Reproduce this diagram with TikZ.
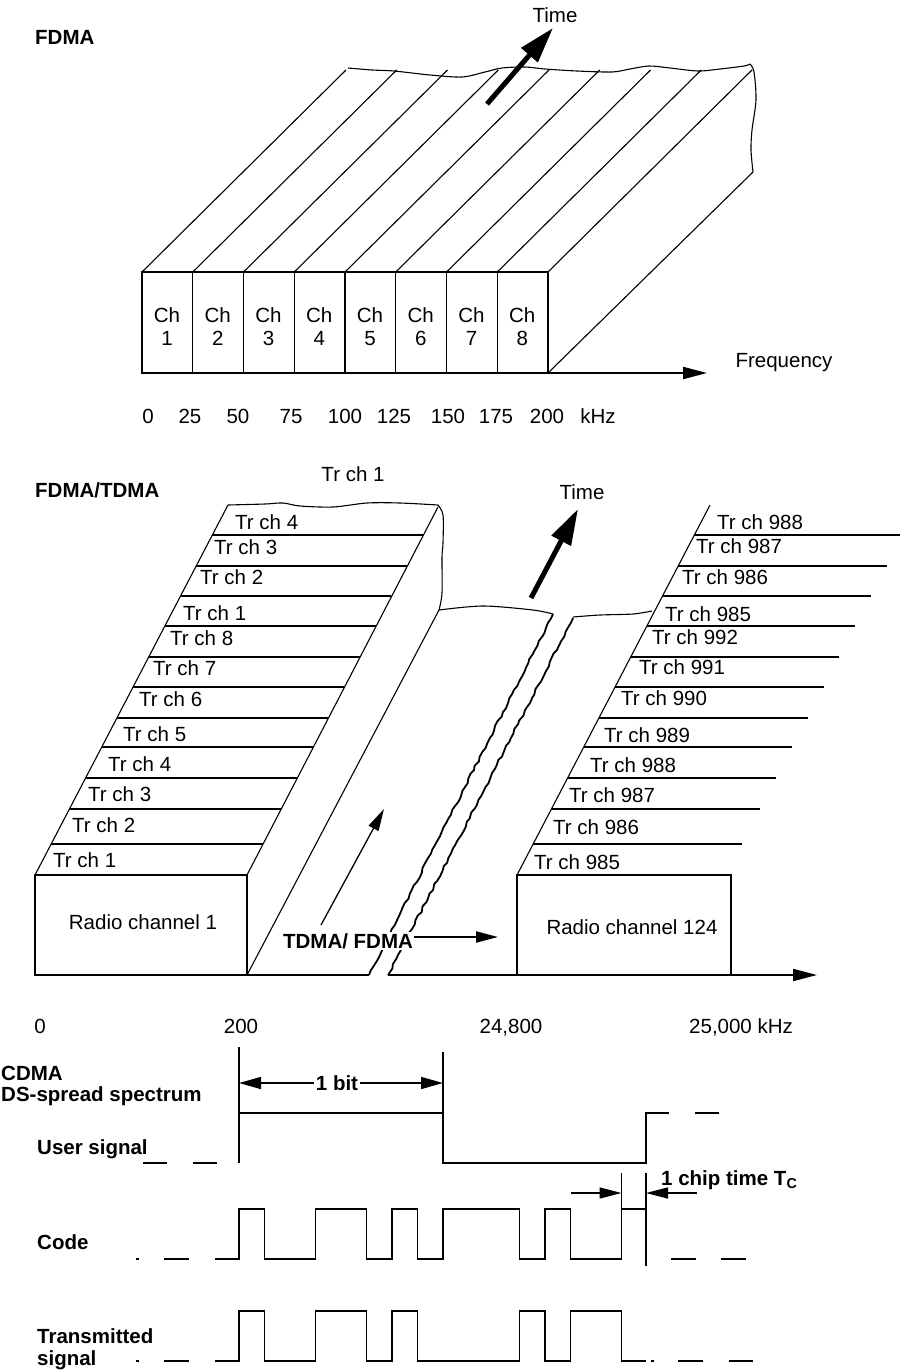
\documentclass[tikz,border=0pt]{standalone}
\usepackage{fontspec}
\setmainfont{Liberation Sans}
\usetikzlibrary{arrows.meta,decorations.pathmorphing,calc}
\begin{document}
\begin{tikzpicture}[x=1pt,y=-1pt,
  lbl/.style={inner sep=0pt,font=\fontsize{20.5}{23}\selectfont},
  blbl/.style={inner sep=0pt,font=\fontsize{20.5}{23}\selectfont\bfseries},
  ln/.style={line width=1.1pt},
  bx/.style={line width=2.2pt},
  sg/.style={line width=1.5pt},
  bigarrow/.style={line width=5pt,-{Triangle[length=36pt,width=21pt]}},
  axarrow/.style={line width=2pt,-{Triangle[length=24pt,width=12pt]}},
  smarrow/.style={line width=1.3pt,-{Triangle[length=22pt,width=11pt]}},
  dimarrow/.style={line width=1.5pt,{Triangle[length=22pt,width=12pt]}-{Triangle[length=22pt,width=12pt]}},
  jag/.style={line width=1.8pt,decorate,decoration={random steps,segment length=5pt,amplitude=1pt}}
]
\pgfmathsetseed{7}
\useasboundingbox (0,0) rectangle (900,1371);
\fill[white] (0,0) rectangle (900,1371);

% ================= FDMA =================
\node[blbl,anchor=west] (fdma) at (35,37) {FDMA};
\foreach \k in {0,...,8}
  \draw[ln] ({142+50.75*\k},272) -- ({346+50.75*\k},70);
\draw[ln] plot[smooth] coordinates {(348,68) (372,70) (394,71) (430,75) (462,77) (485,72) (502,68) (525,67) (545,69) (577,71) (612,72) (630,69) (649,66) (670,68) (698,71) (720,69) (744,66) (750,64)};
\draw[ln] plot[smooth] coordinates {(750,64) (754,72) (756,100) (752,130) (751,150) (753,172)};
\draw[ln] (548,373) -- (753,172);
\foreach \k in {1,...,7}
  \draw[ln] ({142+50.75*\k},272) -- ({142+50.75*\k},373);
\draw[bx] (142,272) rectangle (548,373);
\foreach \k [evaluate=\k as \n using int(\k+1)] in {0,...,7}
  \node[lbl,align=center] (ch\n) at ({167+50.75*\k},327) {Ch\\\n};
\coordinate (fstart) at (548,373);
\coordinate (fend) at (707,373);
\draw[axarrow] (fstart) -- (fend);
\node[lbl,anchor=base] (freq) at (784,367) {Frequency};
\coordinate (t1a) at (487,104);
\coordinate (t1b) at (553,28);
\draw[bigarrow] (t1a) -- (t1b);
\node[lbl,anchor=base] (time1) at (555,22) {Time};
\foreach \x/\t [count=\i] in {148/0,190/25,238/50,291/75,345/100,394/125,448/150,496/175,547/200,598/kHz}
  \node[lbl,anchor=base] (fx\i) at (\x,423) {\t};

% ================= FDMA/TDMA =================
\node[blbl,anchor=west] (ft) at (35,490) {FDMA/TDMA};
\node[lbl] (trtop) at (353,474) {Tr ch 1};
% left stack
\draw[ln] (35,875) -- (228,505);
\draw[ln] (247,875) -- (438,507);
\draw[ln] plot[smooth] coordinates {(228,505) (265,504) (283,503) (300,506) (333,507) (367,503) (400,503) (438,505)};
\draw[ln] plot[smooth] coordinates {(438,505) (443,515) (443,543) (442,557) (442,593) (439,610)};
\foreach \yy in {535,566,596,626,657,687,718,747,778,809,844}
  \draw[ln] ({35+(875-\yy)*0.5216},\yy) -- ({247+(875-\yy)*0.5162},\yy);
\foreach \x/\y/\t [count=\i] in {235/522/4,214/547/3,200/577/2,183/613/1,170/638/8,153/668/7,139/699/6,123/734/5,108/764/4,88/794/3,72/825/2,53/860/1}
  \node[lbl,anchor=west] (ls\i) at (\x,\y) {Tr ch \t};
% floor
\draw[ln] (247,975) -- (439,610);
\draw[ln] plot[smooth] coordinates {(439,610) (483,606) (533,610) (553,614)};
\draw[ln] plot[smooth] coordinates {(573,617) (600,615) (633,614) (652,611)};
\draw[jag] (553,614) -- (369,975);
\draw[jag] (573,618) -- (388,975);
\draw[bx] (247,975) -- (369,975);
\draw[bx] (388,975) -- (517,975);
% boxes
\draw[bx] (35,875) rectangle (247,975);
\node[lbl] (rc1) at (143,922) {Radio channel 1};
\draw[bx] (517,875) rectangle (731,975);
\node[lbl] (rc124) at (632,927) {Radio channel 124};
\coordinate (f2a) at (731,975);
\coordinate (f2b) at (817,975);
\draw[axarrow] (f2a) -- (f2b);
% right stack
\draw[ln] (517,875) -- (710,505);
\foreach \yy in {535,566,596,626,657,687,718,747,778,809,844}
  \draw[ln] ({517+(875-\yy)*0.5216},\yy) -- ({min(900,742+(844-\yy)*0.52)},\yy);
\foreach \x/\y/\t [count=\i] in {717/522/988,696/546/987,682/577/986,665/614/985,652/637/992,639/667/991,621/698/990,604/735/989,590/765/988,569/795/987,553/827/986,534/862/985}
  \node[lbl,anchor=west] (rs\i) at (\x,\y) {Tr ch \t};
% arrows
\coordinate (ma) at (321,925);
\coordinate (mb) at (384,809);
\draw[smarrow] (ma) -- (mb);
\node[blbl,fill=white,inner sep=1pt] (tf) at (348,941) {TDMA/ FDMA};
\coordinate (tfend) at (498,937);
\draw[smarrow,line width=2pt] (tf.east |- tfend) -- (tfend);
\coordinate (t2a) at (531,598);
\coordinate (t2b) at (578,509);
\draw[bigarrow] (t2a) -- (t2b);
\node[lbl,anchor=base] (time2) at (582,499) {Time};
\foreach \x/\t [count=\i] in {40/0,241/200,511/{24,800}}
  \node[lbl,anchor=base] (ax\i) at (\x,1033) {\t};
\node[lbl,anchor=base west] (ax4) at (689,1033) {25,000 kHz};

% ================= CDMA =================
\node[blbl,anchor=west] (cdma) at (1,1073) {CDMA};
\node[blbl,anchor=west] (dss) at (1,1096) {DS-spread spectrum};
\node[blbl,anchor=west] (us) at (37,1149) {User signal};
\node[blbl,anchor=west] (cd) at (37,1242) {Code};
\node[blbl,anchor=west] (tx1) at (37,1336) {Transmitted};
\node[blbl,anchor=west] (tx2) at (37,1360) {signal};
% markers
\draw[sg] (239,1047) -- (239,1163);
\draw[sg] (443,1052) -- (443,1163);
\coordinate (b1) at (239,1083);
\coordinate (b2) at (443,1083);
\draw[dimarrow] (b1) -- (b2);
\node[blbl,fill=white,inner sep=1.5pt] (bit) at (337,1083) {1 bit};
% user signal
\draw[sg] (143,1163) -- (167,1163);
\draw[sg] (193,1163) -- (217,1163);
\draw[sg] (239,1113) -- (443,1113) -- (443,1163) -- (646,1163) -- (646,1113) -- (669,1113);
\draw[sg] (695,1113) -- (719,1113);
% code
\draw[sg] (136,1259) -- (138.5,1259);
\draw[sg] (164,1259) -- (189,1259);
\draw[sg] (215,1259) -- (239,1259) -- (239,1209) -- (264.5,1209) -- (264.5,1259)
  -- (315.5,1259) -- (315.5,1209) -- (366.5,1209) -- (366.5,1259) -- (392,1259)
  -- (392,1209) -- (417.5,1209) -- (417.5,1259) -- (443,1259) -- (443,1209)
  -- (519.5,1209) -- (519.5,1259) -- (545,1259) -- (545,1209) -- (570.5,1209)
  -- (570.5,1259) -- (621.5,1259) -- (621.5,1173);
\draw[sg] (621.5,1209) -- (646,1209);
\draw[sg] (646,1173) -- (646,1266);
\draw[sg] (671,1259) -- (696,1259);
\draw[sg] (721,1259) -- (746,1259);
\coordinate (c1) at (571,1193);
\coordinate (c2) at (621.5,1193);
\coordinate (c3) at (697,1193);
\coordinate (c4) at (646,1193);
\draw[smarrow,line width=1.5pt] (c1) -- (c2);
\draw[smarrow,line width=1.5pt] (c3) -- (c4);
\node[blbl,anchor=base west] (chip) at (661,1185) {1 chip time T\textsubscript{C}};
% transmitted
\draw[sg] (136,1361) -- (138.5,1361);
\draw[sg] (164,1361) -- (189,1361);
\draw[sg] (215,1361) -- (239,1361) -- (239,1311) -- (264.5,1311) -- (264.5,1361)
  -- (315.5,1361) -- (315.5,1311) -- (366.5,1311) -- (366.5,1361) -- (392,1361)
  -- (392,1311) -- (417.5,1311) -- (417.5,1361) -- (519.5,1361) -- (519.5,1311)
  -- (545,1311) -- (545,1361) -- (570.5,1361) -- (570.5,1311) -- (621.5,1311)
  -- (621.5,1361) -- (646,1361);
\draw[sg] (651,1361) -- (653.5,1361);
\draw[sg] (678,1361) -- (703,1361);
\draw[sg] (729,1361) -- (753,1361);
\end{tikzpicture}
\end{document}
